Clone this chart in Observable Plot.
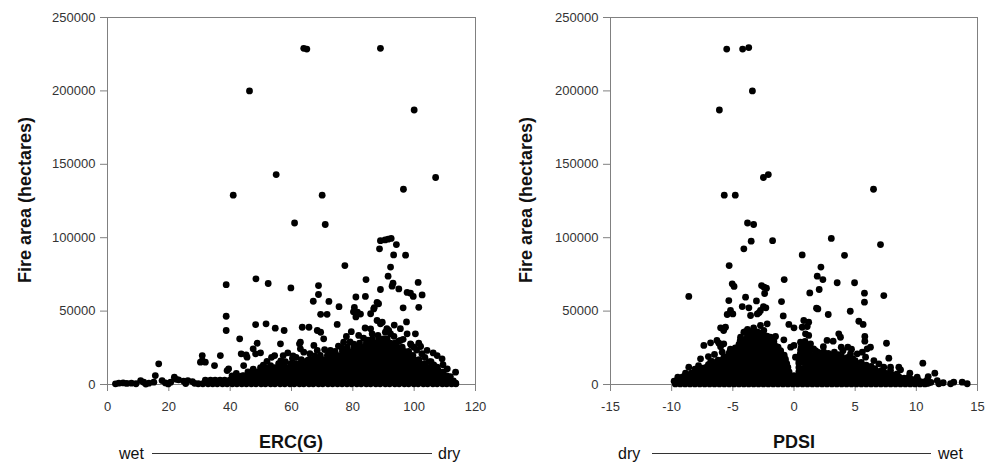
<!DOCTYPE html>
<html>
<head>
<meta charset="utf-8">
<script src="https://cdn.jsdelivr.net/npm/d3@7"></script>
<script src="https://cdn.jsdelivr.net/npm/@observablehq/plot@0.6"></script>
<style>
  html, body { margin: 0; padding: 0; background: #fff; }
  #wrap { position: relative; width: 987px; height: 468px; overflow: hidden; font-family: "Liberation Sans", Arial, sans-serif; }
  .panel { position: absolute; top: 0; }
  .panel svg text { fill: #333; }
  #ann { position: absolute; left: 0; top: 0; pointer-events: none; }
</style>
</head>
<body>
<div id="wrap">
  <div class="panel" id="left" style="left:0px"></div>
  <div class="panel" id="right" style="left:490px"></div>
  <svg id="ann" width="987" height="468" font-family="Liberation Sans, Arial, sans-serif" fill="#111">
    <text transform="translate(30.5,200) rotate(-90)" text-anchor="middle" font-weight="bold" font-size="18">Fire area (hectares)</text>
    <text transform="translate(531.5,200) rotate(-90)" text-anchor="middle" font-weight="bold" font-size="18">Fire area (hectares)</text>
    <text x="291" y="448" text-anchor="middle" font-weight="bold" font-size="18">ERC(G)</text>
    <text x="794" y="448" text-anchor="middle" font-weight="bold" font-size="18">PDSI</text>
    <text x="119" y="459" font-size="16">wet</text>
    <line x1="152" x2="432" y1="453.5" y2="453.5" stroke="#333" stroke-width="1"></line>
    <text x="438" y="459" font-size="16">dry</text>
    <text x="618" y="459" font-size="16">dry</text>
    <line x1="652" x2="931" y1="453.5" y2="453.5" stroke="#333" stroke-width="1"></line>
    <text x="938" y="459" font-size="16">wet</text>
  </svg>
</div>
<script>
// ---- tick values ----
const ercTicks = [0, 20, 40, 60, 80, 100, 120];
const pdsiTicks = [-15, -10, -5, 0, 5, 10, 15];
const areaTicks = [0, 50000, 100000, 150000, 200000, 250000];

// ---- ERC(G) panel: scattered fires [ERC(G), hectares] ----
const ercSparse = [
  [64,229000],[65,228500],[89,229000],[46.3,200000],[100,187000],[55,143000],[41,129000],[70,129000],[96.5,133000],[107,141000],[61,110000],[71,109000],
  [89,98000],[90.5,98500],[91.5,99000],[92.5,99500],[88.7,92400],[94.2,95300],[93.3,88300],[97.2,88100],[92.3,80000],[77.4,81000],[91.5,73800],[84.3,71500],[93.1,69000],[92.8,67000],[101.3,69500],[95,65100],[89,64700],[97.7,62700],[98.8,62200],[99.7,60000],[102.6,61000],[81,59600],[84.1,60000],[68.8,67400],[68.8,61300],[67.1,56700],[72.2,56600],[48.4,72000],[52.4,68800],[38.7,68000],[59.8,65800],
  [75.5,53000],[80.5,52500],[80.2,49500],[81.5,49200],[82.5,48000],[81,46000],[87.9,56000],[88.4,55000],[86.8,51500],[85.8,48200],[87,52400],[96.4,52200],[101.5,52600],[69.5,47800],[71.6,47800],[87.9,43600],[89.6,42400],[89,41300],[97.5,42600],[74.9,40900],[38.7,46500],[38.7,36800],[48.3,40800],[51.7,41300],[54.7,38400],[57.6,36800],[63.5,39000],[65.7,39000],[68.4,36800],[69.5,35600],[70.5,31100],[67.3,26600],[68.4,23200],[62.9,24300],[64,22000],[65.1,16300],[62.6,27700],[62.9,28800],
  [77.9,32700],[81.9,33400],[85.8,37900],[86.3,34500],[90.6,35600],[92.3,34500],[97.7,34500],[100.4,34500],[91.7,36800],[91.1,38000],[84,38500],[79.5,36000],[93.5,40500],[95.5,38000],[72.7,23200],[77,28800],[95.5,30000],[98.8,27700],[99.9,25400],[101.5,28100],[102.1,25900],
  [104.2,23200],[107.5,19700],[109.1,17500],[110.8,10700],[113.5,8400],[111.8,5400],[110.2,2700],[113.5,900],[107.5,11800],[105.5,15500],[106.2,21500],[109.4,13500],
  [43.1,31100],[48.8,28100],[49.9,21600],[48.3,20900],[45.2,20200],[43.6,20900],[56.4,27700],[54.5,19700],[58.8,21600],[57.3,19700],[47.5,24300],[45.5,18600],[44.4,12900],[43.9,5000],[44.4,6100],[39.5,10700],[39,9500],[36.8,19700],[34.9,12900],[30.9,19700],[30.3,15200],[31.9,15200],[30.9,16300],[52,15800],[53.5,18500],[60.5,19500],
  [42,7500],[47.5,10500],[50.8,13200],[53.2,12800],[56.5,16000],[58,15500],[60.3,17800],[61.5,18500],[66,21000],[67.5,19500],[70.8,23800],[72.2,21800],[75.3,26200],[76.4,25000],[79.1,29000],[80.3,27500],[83.5,31500],[84.9,30200],[88.2,33500],[93.4,32800],[94.9,29500],[96.4,30800],[99,26900],[100.8,23500],[102.5,21000],[103.5,18500],[104.9,15600],[106.4,13300],[107.8,9800],[108.9,7600],[110.9,4200],[112.8,2400],
  [2.6,450],[3.7,900],[5.1,1100],[6.3,700],[7.8,900],[10.8,2700],[11.8,1600],[13.5,900],[15.1,1600],[15.6,6100],[16.7,14100],[17.8,2700],[18.9,1100],[20.6,1600],[21.8,5000],[22.4,3500],[23.2,3200],[24.8,2300],[26.2,2700],[27.7,2000],[28.4,800],[25.5,600],[19.8,400],[12.5,300],[9.3,500]
];
// ---- ERC(G) panel: the crowded band near the x axis, by row [hectares, ERC(G) values] ----
const ercCoreRows = [
  [500,  [29.6,31.1,32.8,34.3,35.8,37.5,39.0,40.7,42.2,43.8,45.3,46.9,48.4,50.1,51.5,53.2,54.6,56.3,57.8,59.5,60.9,62.6,64.0,65.7,67.1,68.8,70.2,71.9,73.4,75.0,76.5,78.1,79.6,81.3,82.7,84.4,85.8,87.5,88.9,90.6,92.0,93.7,95.1,96.8,98.2,99.9,101.3,103.0,104.4,106.1,107.5,109.2,110.6,112.2,113.6]],
  [3000, [31.9,33.6,35.1,36.7,38.2,39.9,41.4,43.1,44.5,46.2,47.6,49.3,50.7,52.4,53.8,55.5,56.9,58.6,60.1,61.7,63.2,64.8,66.3,68.0,69.4,71.1,72.5,74.2,75.6,77.3,78.8,80.4,81.9,83.5,85.0,86.7,88.1,89.8,91.2,92.9,94.3,96.0,97.5,99.1,100.6,102.2,103.7,105.4,106.8,108.5,109.9,111.5]],
  [5800, [40.6,42.3,43.9,45.4,47.0,48.5,50.1,51.7,53.2,54.8,56.3,57.9,59.5,61.0,62.6,64.1,65.7,67.2,68.8,70.4,71.9,73.5,75.0,76.6,78.2,79.7,81.3,82.8,84.4,86.0,87.5,89.1,90.6,92.2,93.8,95.3,96.9,98.4,100.0,101.6,103.1,104.7,106.2,107.8,109.3,110.7]],
  [8600, [45.8,47.4,48.9,50.5,52.0,53.6,55.2,56.7,58.3,59.8,61.4,63.0,64.5,66.1,67.6,69.2,70.8,72.3,73.9,75.4,77.0,78.6,80.1,81.7,83.2,84.8,86.4,87.9,89.5,91.0,92.6,94.2,95.7,97.3,98.8,100.4,102.0,103.5,105.1,106.6,108.2,109.5]],
  [11400,[49.9,51.4,53.0,54.5,56.1,57.7,59.2,60.8,62.3,63.9,65.5,67.0,68.6,70.1,71.7,73.3,74.8,76.4,77.9,79.5,81.1,82.6,84.2,85.7,87.3,88.9,90.4,92.0,93.5,95.1,96.7,98.2,99.8,101.3,102.9,104.5,106.0]],
  [14200,[55.8,57.6,59.8,61.4,62.9,64.5,66.1,67.6,69.2,70.7,72.3,73.9,75.4,77.0,78.5,80.1,81.7,83.2,84.8,86.3,87.9,89.5,91.0,92.6,94.1,95.7,97.3,98.8,100.4,101.9,103.5]],
  [17000,[63.2,65.7,67.2,68.8,70.3,71.9,73.5,75.0,76.6,78.1,79.7,81.3,82.8,84.4,85.9,87.5,89.1,90.6,92.2,93.7,95.3,96.9,98.4,100.0,101.6]],
  [19800,[69.4,71.7,73.3,74.9,76.4,78.0,79.5,81.1,82.7,84.2,85.8,87.3,88.9,90.5,92.0,93.6,95.1,96.7,98.3,99.6]],
  [22600,[74.2,76.6,78.1,79.7,81.2,82.8,84.4,85.9,87.5,89.0,90.6,92.2,93.7,95.3,96.8,98.2]],
  [25400,[78.2,80.5,82.0,83.6,85.1,86.7,88.3,89.8,91.4,92.9,94.5,96.1]],
  [28200,[82.2,84.4,85.9,87.5,89.0,90.6,92.2,93.7]],
  [31000,[86.4,88.5,90.0,91.2]]
];

// ---- PDSI panel: scattered fires [PDSI, hectares] ----
const pdsiSparse = [
  [-5.5,228500],[-4.2,228500],[-3.7,229500],[-3.4,200000],[-6.1,187000],[-2.1,143000],[-2.5,141000],[-5.7,129000],[-4.8,129000],[6.5,133000],[-3.8,110000],[-3.3,109000],
  [-3.5,97600],[-1.75,98000],[3.05,99500],[-4.1,92400],[7.07,95300],[0.67,88300],[4.13,88000],[-5.3,81000],[2.2,80000],[1.9,73800],[2.36,71500],[-0.8,71500],[-5.05,68600],[-4.9,66800],[-2.65,67400],[-2.45,66300],[-2.25,65600],[-2.4,62000],[3.53,69300],[4.95,69300],[2.06,64700],[1.29,62400],[5.76,62200],[5.76,56100],[7.34,60600],[-8.6,60000],[-3.96,59500],[-5.33,57200],[-3.07,56900],[-1.02,56500],
  [-4.23,53100],[-3.69,52200],[-2.5,53100],[-2.3,52200],[-5.19,50400],[-5.46,47700],[-5.0,48100],[-3.55,47000],[-3.0,48100],[-2.74,50400],[-2.85,49000],[-0.88,46700],[1.84,52000],[1.95,51500],[2.8,47700],[4.6,49900],[5.3,43100],[5.65,40900],[-5.6,39000],[-6.0,38600],[-5.75,36800],[-0.42,40900],[0,38600],[0.8,43600],[1.08,39500],[0.94,34500],[1.2,42400],[0.67,39000],[1.2,33400],
  [-3.55,35600],[-2.74,40200],[-2.19,41300],[-2.47,36800],[-1.51,32700],[-1.92,32200],[-0.83,30400],[-4.1,35600],[-4.37,32200],[-3.96,36000],[-3.8,37500],[-3.3,38500],[-1.65,29500],[-1.3,25500],[-1.1,23000],[-0.9,18000],[-0.75,16000],[-0.55,12000],[-0.4,8500],
  [-7.37,26600],[-6.82,28400],[-6.14,28100],[-5.74,27700],[-5.87,22000],[-7.64,17500],[-6.82,15200],[-8.6,11800],[-8.87,7700],[-9.28,3900],[-9.5,5000],[-9.6,1500],[-6.3,30000],[-6.0,25800],[-6.5,20500],[-7.0,19000],[-8.1,10500],[-7.8,12900],
  [-9.8,2200],[-9.1,5200],[-8.4,7800],[-7.9,9900],[-7.5,11200],[-7.0,13500],[-6.7,15800],[-6.2,16600],[-5.7,18900],[-5.3,21500],[-5.2,24000],[-4.8,24900],[-4.5,27300],[-4.4,29800],[-4.0,30800],[-3.8,33200],[-3.4,36200],[-3.0,35800],[-2.6,35200],[-2.2,33000],[-2.0,30300],[-1.6,27000],[-1.2,21500],[-1.0,19800],[-0.85,14200],[-0.65,10200],
  [0.4,16000],[0.5,20500],[0.55,24000],[0.9,29300],[1.2,26400],[1.6,24200],[1.9,22200],[2.2,21500],[2.8,21200],[3.6,20300],[3.9,19000],[4.4,18500],[4.8,17600],[5.0,16200],[5.5,15000],[5.9,13200],[6.3,12300],[6.6,10800],[7.1,9300],[7.4,7900],[7.7,7200],[8.2,6300],[8.6,5000],[9.0,4300],[9.6,3400],[10.2,2600],[10.6,1800],[11.0,1000],
  [5.79,32700],[5.79,29500],[5.98,24300],[6.25,25400],[7.56,28100],[7.75,17900],[10.53,14500],[11.51,7700],[10.97,5400],[9.47,7700],[8.57,11800],[8.71,10000],[7.89,11800],[3.2,29500],[3.8,32200],[3.66,34500],[3.86,25400],[2.44,22000],[2.98,19100],[4.62,20900],[5.17,20900],[5.58,22000],[5.85,18600],[6.53,16300],[6.94,14100],[7.34,11800],[7.89,9500],[8.43,7300],[9.39,5000],[10.07,5000],[10.89,3200],[11.71,2700],[0.53,28800],[0.8,25400],[1.35,27700],[0.12,18600],[-0.27,25400],[0,26600],[2.7,30000],[2.4,25800],[1.75,23100],[4.4,25400],[4.7,24000],[3.3,22000],[4.0,23000],
  [11.84,500],[12.2,1200],[12.8,500],[13.06,1600],[13.75,1600],[14.16,500],[11.2,1500],[10.9,800],[9.9,2000]
];
// ---- PDSI panel: the crowded band near the x axis, by row [hectares, PDSI values] ----
const pdsiCoreRows = [
  [400,  [-9.7,-9.3,-8.9,-8.5,-8.1,-7.7,-7.3,-6.9,-6.5,-6.1,-5.7,-5.3,-4.9,-4.5,-4.1,-3.7,-3.3,-2.9,-2.5,-2.1,-1.7,-1.3,-0.9,-0.5,-0.1,0.3,0.7,1.1,1.5,1.9,2.3,2.7,3.1,3.5,3.9,4.3,4.7,5.1,5.5,5.9,6.3,6.7,7.1,7.5,7.9,8.3,8.7,9.1,9.5,9.9,10.3,10.7]],
  [3200, [-9.5,-9.1,-8.7,-8.3,-7.9,-7.5,-7.1,-6.7,-6.3,-5.9,-5.5,-5.1,-4.7,-4.3,-3.9,-3.5,-3.1,-2.7,-2.3,-1.9,-1.5,-1.1,-0.7,-0.3,0.1,0.5,0.9,1.3,1.7,2.1,2.5,2.9,3.3,3.7,4.1,4.5,4.9,5.3,5.7,6.1,6.5,6.9,7.3,7.7,8.1,8.5,8.9,9.3,9.7]],
  [6000, [-8.8,-8.4,-8.0,-7.6,-7.2,-6.8,-6.4,-6.0,-5.6,-5.2,-4.8,-4.4,-4.0,-3.6,-3.2,-2.8,-2.4,-2.0,-1.6,-1.2,-0.8,-0.4,0.0,0.4,0.8,1.2,1.6,2.0,2.4,2.8,3.2,3.6,4.0,4.4,4.8,5.2,5.6,6.0,6.4,6.8,7.2,7.6,8.0]],
  [8800, [-8.1,-7.7,-7.3,-6.9,-6.5,-6.1,-5.7,-5.3,-4.9,-4.5,-4.1,-3.7,-3.3,-2.9,-2.5,-2.1,-1.7,-1.3,-0.9,-0.5,0.4,0.8,1.2,1.6,2.0,2.4,2.8,3.2,3.6,4.0,4.4,4.8,5.2,5.6,6.0,6.4,6.8]],
  [11600,[-7.2,-6.9,-6.5,-6.1,-5.7,-5.3,-4.9,-4.5,-4.1,-3.7,-3.3,-2.9,-2.5,-2.1,-1.7,-1.3,-0.9,-0.5,0.4,0.9,1.3,1.7,2.1,2.5,2.9,3.3,3.7,4.1,4.5,4.9,5.3,5.7,6.0]],
  [14400,[-6.4,-6.2,-5.8,-5.4,-5.0,-4.6,-4.2,-3.8,-3.4,-3.0,-2.6,-2.2,-1.8,-1.4,-1.0,-0.6,0.4,0.9,1.3,1.7,2.1,2.5,2.9,3.3,3.7,4.1,4.5,4.9,5.2]],
  [17200,[-5.8,-5.5,-5.1,-4.7,-4.3,-3.9,-3.5,-3.1,-2.7,-2.3,-1.9,-1.5,-1.1,-0.7,0.5,0.9,1.3,1.7,2.1,2.5,2.9,3.3,3.7,4.1,4.4]],
  [20000,[-5.3,-5.0,-4.6,-4.2,-3.8,-3.4,-3.0,-2.6,-2.2,-1.8,-1.4,-1.0,-0.8,0.5,0.9,1.3,1.7,2.1,2.5,2.9,3.3]],
  [22800,[-4.9,-4.6,-4.2,-3.8,-3.4,-3.0,-2.6,-2.2,-1.8,-1.4,-1.1,0.55,0.9,1.3]],
  [25600,[-4.5,-4.2,-3.8,-3.4,-3.0,-2.6,-2.2,-1.8,-1.4,0.6,1.0]],
  [28400,[-4.1,-3.8,-3.4,-3.0,-2.6,-2.2,-1.8,0.7]],
  [31200,[-3.8,-3.5,-3.1,-2.7,-2.3]],
  [34000,[-3.5,-3.2,-2.8,-2.5]]
];

// ---- build tables ----
function table(sparse, rows) {
  return [
    ...sparse.map(([x, area]) => ({x, area})),
    ...rows.flatMap(([area, xs]) => xs.map(x => ({x, area})))
  ];
}
const ercData = table(ercSparse, ercCoreRows);
const pdsiData = table(pdsiSparse, pdsiCoreRows);

const fmt = d => String(d);
const baseStyle = {
  fontFamily: "Liberation Sans, Arial, sans-serif",
  fontSize: "13px",
  color: "#808080",
  background: "transparent",
  overflow: "visible"
};

function panel(data, xDomain, xTicks, width, marginLeft, marginRight) {
  return Plot.plot({
    width, height: 468,
    marginTop: 17, marginBottom: 84, marginLeft, marginRight,
    style: baseStyle,
    x: {domain: xDomain, ticks: xTicks, tickFormat: fmt, tickSize: 7, tickPadding: 10, label: null},
    y: {domain: [0, 250000], ticks: areaTicks, tickFormat: fmt, tickSize: 7, tickPadding: 5, label: null},
    marks: [
      Plot.frame({stroke: "#808080"}),
      Plot.dot(data, {x: "x", y: "area", r: 3.4, fill: "#000"})
    ]
  });
}

document.getElementById("left").appendChild(panel(ercData, [0, 120], ercTicks, 490, 107, 15));
document.getElementById("right").appendChild(panel(pdsiData, [-15, 15], pdsiTicks, 497, 120, 10));
</script>
</body>
</html>
